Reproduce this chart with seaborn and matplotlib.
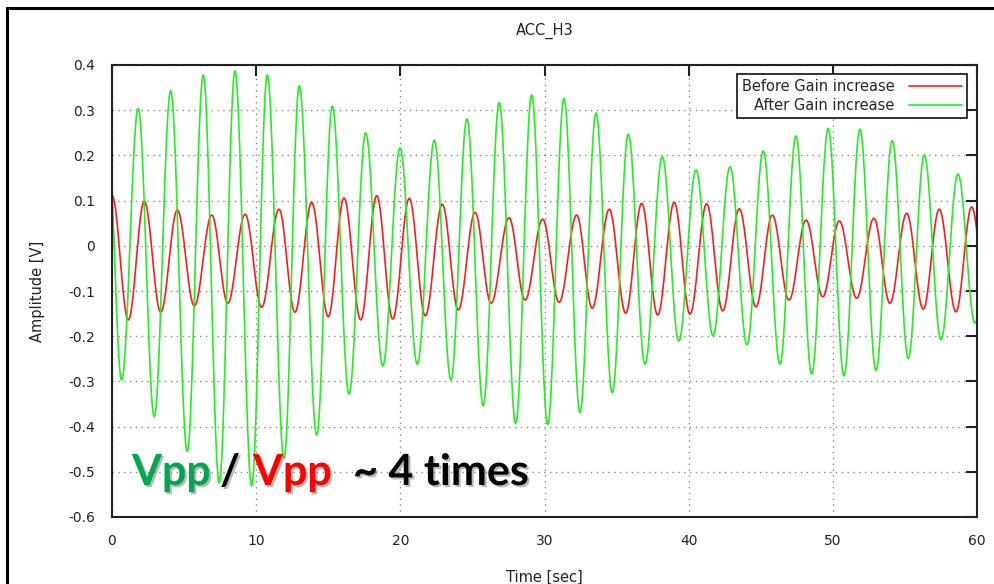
import numpy as np
import pandas as pd
import matplotlib
matplotlib.use('Agg')
import matplotlib.pyplot as plt
import matplotlib.patheffects as pe
from matplotlib.patches import Rectangle
import seaborn as sns

# Extrema (time [sec], amplitude [V])
before_t = [0.00, 1.13, 2.24, 3.38, 4.53, 5.71, 6.92, 8.03, 9.23, 10.38,
            11.58, 12.69, 13.85, 15.00, 16.09, 17.25, 18.36, 19.47, 20.62, 21.73,
            22.91, 24.02, 25.18, 26.29, 27.54, 28.65, 29.87, 31.01, 32.23, 33.31,
            34.49, 35.63, 36.74, 37.85, 39.00, 40.09, 41.25, 42.36, 43.51, 44.67,
            45.80, 46.96, 48.14, 49.30, 50.45, 51.65, 52.85, 53.96, 55.12, 56.27,
            57.38, 58.54, 59.63, 60.76]
before_v = [0.112, -0.164, 0.098, -0.147, 0.079, -0.133, 0.068, -0.127, 0.070, -0.136,
            0.081, -0.147, 0.096, -0.157, 0.106, -0.164, 0.111, -0.162, 0.105, -0.155,
            0.092, -0.142, 0.074, -0.127, 0.062, -0.120, 0.059, -0.125, 0.068, -0.138,
            0.081, -0.149, 0.094, -0.153, 0.096, -0.151, 0.093, -0.144, 0.082, -0.135,
            0.068, -0.120, 0.057, -0.113, 0.055, -0.116, 0.061, -0.127, 0.072, -0.140,
            0.081, -0.146, 0.086, -0.150]

after_t = [-0.35, 0.67, 1.82, 2.93, 4.07, 5.22, 6.33, 7.44, 8.53, 9.69,
           10.77, 11.93, 12.99, 14.20, 15.28, 16.44, 17.60, 18.78, 19.98, 21.18,
           22.36, 23.51, 24.62, 25.75, 26.86, 28.00, 29.11, 30.22, 31.35, 32.46,
           33.57, 34.70, 35.81, 36.97, 38.17, 39.31, 40.51, 41.69, 42.87, 44.05,
           45.17, 46.33, 47.44, 48.53, 49.68, 50.77, 51.88, 52.99, 54.12, 55.23,
           56.34, 57.50, 58.68, 59.86, 61.00]
after_v = [0.280, -0.297, 0.304, -0.378, 0.343, -0.455, 0.378, -0.525, 0.387, -0.531,
           0.378, -0.470, 0.354, -0.419, 0.309, -0.328, 0.250, -0.266, 0.217, -0.262,
           0.234, -0.297, 0.281, -0.354, 0.317, -0.393, 0.334, -0.395, 0.326, -0.369,
           0.294, -0.325, 0.247, -0.262, 0.197, -0.211, 0.168, -0.199, 0.175, -0.219,
           0.210, -0.262, 0.243, -0.284, 0.260, -0.288, 0.258, -0.276, 0.233, -0.249,
           0.201, -0.208, 0.159, -0.171, 0.140]

labels = ['Before Gain increase', 'After Gain increase']
colors = {'Before Gain increase': '#ff1a1a', 'After Gain increase': '#22ee22'}
x_ticks = [0, 10, 20, 30, 40, 50, 60]
y_ticks = [-0.6, -0.5, -0.4, -0.3, -0.2, -0.1, 0, 0.1, 0.2, 0.3, 0.4]


def trace(ts, vs, n=24):
    # smooth half-cosine swing between each pair of read extrema
    tt, vv = [], []
    for i in range(len(ts) - 1):
        s = np.linspace(0, 1, n, endpoint=False)
        tt.extend(ts[i] + (ts[i + 1] - ts[i]) * s)
        vv.extend(vs[i] + (vs[i + 1] - vs[i]) * (1 - np.cos(np.pi * s)) / 2)
    tt.append(ts[-1])
    vv.append(vs[-1])
    return tt, vv


rows = []
for name, ts, vs in [(labels[0], before_t, before_v), (labels[1], after_t, after_v)]:
    tt, vv = trace(ts, vs)
    rows.append(pd.DataFrame({'time': tt, 'amp': vv, 'series': name}))
df = pd.concat(rows, ignore_index=True)

sns.set_theme(style='white')
plt.rcParams['font.family'] = ['DejaVu Sans']

fig = plt.figure(figsize=(9.94, 5.84), dpi=100)
ax = fig.add_axes([112 / 994, 1 - 517 / 584, 865 / 994, 452 / 584])

sns.lineplot(data=df, x='time', y='amp', hue='series', hue_order=labels,
             palette=colors, estimator=None, sort=False, linewidth=1.2, ax=ax)

ax.set_xlim(0, 60)
ax.set_ylim(-0.6, 0.4)
ax.set_xticks(x_ticks)
ax.set_yticks(y_ticks)
ax.set_xticklabels([str(v) for v in x_ticks])
ax.set_yticklabels(['%g' % v for v in y_ticks])
ax.tick_params(direction='in', length=8, width=1.5, color='#222222',
               top=True, right=True, labelsize=10, colors='#222222',
               labelcolor='#222222')
ax.tick_params(axis='y', pad=12)
ax.tick_params(axis='x', pad=12)
ax.grid(True, color='#888888', linestyle=(0, (1, 3.2)), linewidth=1)
for sp in ax.spines.values():
    sp.set_color('#222222')
    sp.set_linewidth(1.5)

ax.set_title('ACC_H3', fontsize=10.5, color='#222222', pad=22)
ax.set_xlabel('Time [sec]', fontsize=10.5, color='#222222', labelpad=16)
ax.set_ylabel('Amplitude [V]', fontsize=10.5, color='#222222', labelpad=17)

handles, _ = ax.get_legend_handles_labels()
leg = ax.legend(handles, labels, loc='upper right',
                bbox_to_anchor=((967 - 112) / 865, (517 - 74) / 452),
                borderaxespad=0, markerfirst=False, fontsize=10.5,
                frameon=True, fancybox=False, framealpha=1,
                edgecolor='#111111', handlelength=3.6, handletextpad=1.0,
                labelspacing=0.25, borderpad=0.35)
leg.get_frame().set_linewidth(1.2)
for line in leg.get_lines():
    line.set_linewidth(1.2)

# slide annotation
shadow = [pe.SimplePatchShadow(offset=(1.5, -1.5), shadow_rgbFace='#777777', alpha=0.5),
          pe.Normal()]
ann = dict(fontsize=31, fontweight='bold', va='baseline', ha='left',
           family=['Lato', 'DejaVu Sans'], path_effects=shadow)
base = 1 - 485 / 584
fig.text(132 / 994, base, 'Vpp', color='#00a650', **ann)
fig.text(220 / 994, base, '/', color='black', **ann)
fig.text(253 / 994, base, 'Vpp', color='#ff0000', **ann)
fig.text(353 / 994, base, '~ 4 times', color='black', **ann)

# slide frame
fig.patches.append(Rectangle((7 / 994, -0.1), 1.2, 1 - 8 / 584 + 0.1,
                             transform=fig.transFigure, fill=False,
                             edgecolor='black', linewidth=2.2))

fig.savefig('out.png', dpi=100)
